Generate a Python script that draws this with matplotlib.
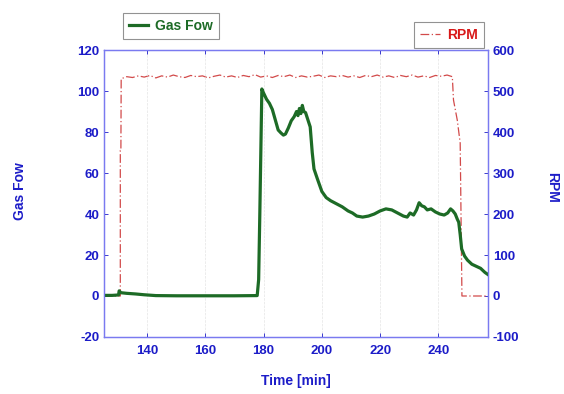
import matplotlib.pyplot as plt

plt.rcParams['font.family'] = ['Liberation Sans', 'DejaVu Sans']
plt.rcParams['font.weight'] = 'bold'
plt.rcParams['axes.unicode_minus'] = False

# gas flow
gas_t = [125, 128, 130.2, 130.4, 131, 133, 136, 139, 143, 150, 160, 170, 177.8,
         178.3, 178.7, 179.1, 179.4, 180, 181, 182, 183, 184, 185, 186, 186.8,
         187.5, 188.5, 189.5, 190.5, 191.3, 191.8, 192.3, 192.8, 193.3, 193.8,
         194.4, 195.2, 196, 196.7, 197.3, 198.5, 200, 201.5, 203, 205, 207,
         209, 210.5, 212, 214, 216, 218, 220, 222, 224, 226, 228, 229.3, 230.3,
         231.5, 232.5, 233.4, 234.3, 235.2, 236.2, 237.5, 239, 240.5, 242,
         243.2, 244.2, 245, 245.8, 246.5, 247, 247.5, 248, 249, 250, 251.5,
         253, 254.5, 256, 257]
gas = [0.3, 0.3, 0.5, 2.5, 1.6, 1.3, 1.0, 0.6, 0.2, 0.1, 0.1, 0.1, 0.2,
       8, 40, 75, 101, 99, 96, 94, 91, 86, 81, 79.5, 78.5,
       79, 82, 85.5, 87.5, 90, 88, 91.5, 89, 93, 90,
       89.5, 86, 82.5, 70, 62, 57, 51, 48, 46.5, 45, 43.5,
       41.5, 40.5, 39, 38.5, 39, 40, 41.5, 42.5, 42, 40.5, 39, 38.5, 40.5,
       39.5, 42, 45.5, 44, 43.5, 42, 42.5, 41, 40, 39.5,
       40.5, 42.5, 41.5, 40, 37.5, 36, 30, 23, 19.5, 17.5, 15.5,
       14.5, 13.5, 11.5, 10.5]

# spindle speed
rpm_t = [125, 130.8, 130.8, 131.0, 131.1, 133, 135, 137, 139, 141, 143, 145,
         147, 149, 151, 153, 155, 157, 159, 161, 163, 165, 167, 169, 171,
         173, 175, 177, 179, 181, 183, 185, 187, 189, 191, 193, 195, 197,
         199, 201, 203, 205, 207, 209, 211, 213, 215, 217, 219, 221, 223,
         225, 227, 229, 231, 233, 235, 237, 239, 241, 243, 244.8, 245.2,
         246.5, 247.5, 248.1, 249, 257]
rpm = [0, 0, 355, 355, 530, 535, 533, 537, 534, 538, 532, 537,
       534, 539, 535, 533, 538, 535, 537, 532, 536, 539, 534, 537, 533,
       538, 535, 540, 534, 537, 533, 538, 535, 539, 533, 537, 534, 536,
       539, 533, 537, 535, 538, 534, 537, 533, 538, 535, 539, 534, 537,
       533, 538, 535, 539, 534, 537, 533, 538, 536, 539, 535, 478,
       429, 373, 0, 0, 0]

x_ticks = [140, 160, 180, 200, 220, 240]
left_ticks = [-20, 0, 20, 40, 60, 80, 100, 120]
right_ticks = [-100, 0, 100, 200, 300, 400, 500, 600]

blue = '#1c1cc8'
spine_blue = '#7a7af0'
green = '#1d6b26'
red = '#d24a4a'

fig = plt.figure(figsize=(5.64, 3.94), dpi=100)
ax = fig.add_axes([0.1844, 0.1447, 0.6806, 0.7283])
ax2 = ax.twinx()

ax2.plot(rpm_t, rpm, color=red, lw=0.9, dashes=(7, 2, 1, 2), label='RPM')
gl, = ax.plot(gas_t, gas, color=green, lw=2.3, label='Gas Fow')
ax.set_zorder(ax2.get_zorder() + 1)
ax.patch.set_visible(False)

ax.set_xlim(125.2, 257)
ax.set_ylim(-20, 120)
ax2.set_ylim(-100, 600)
ax.set_xticks(x_ticks)
ax.set_yticks(left_ticks)
ax2.set_yticks(right_ticks)

for a in (ax, ax2):
    a.tick_params(colors=blue, labelsize=9.5, direction='in', length=3,
                  width=0.6, top=True)
    for lab in a.get_xticklabels() + a.get_yticklabels():
        lab.set_fontweight('bold')
    for s in a.spines.values():
        s.set_color(spine_blue)
        s.set_linewidth(0.9)
ax.tick_params(axis='x', pad=6)
ax.grid(axis='x', color='#e4e4e4', lw=0.5, ls='--')

ax.set_xlabel('Time [min]', color=blue, fontsize=10, fontweight='bold', labelpad=12)
ax.set_ylabel('Gas Fow', color=blue, fontsize=10, fontweight='bold',
              ha='center', va='center')
ax.yaxis.set_label_coords(-0.219, 0.51)
ax2.set_ylabel('RPM', color=blue, fontsize=10, fontweight='bold',
               rotation=-90, ha='center', va='center')
ax2.yaxis.set_label_coords(1.167, 0.52)

leg1 = fig.legend(handles=[gl], loc='upper left', bbox_to_anchor=(0.205, 0.985),
                  fancybox=False, edgecolor='#777777', fontsize=10,
                  handlelength=1.4, handletextpad=0.5, borderpad=0.45)
leg2 = fig.legend(handles=ax2.get_lines(), loc='upper left',
                  bbox_to_anchor=(0.722, 0.962), fancybox=False,
                  edgecolor='#777777', fontsize=10, handlelength=1.4,
                  handletextpad=0.5, borderpad=0.45)
leg1.get_texts()[0].set_color(green)
leg2.get_texts()[0].set_color('#d81818')
for lg in (leg1, leg2):
    lg.get_frame().set_linewidth(0.8)

fig.savefig('out.png', dpi=100)
